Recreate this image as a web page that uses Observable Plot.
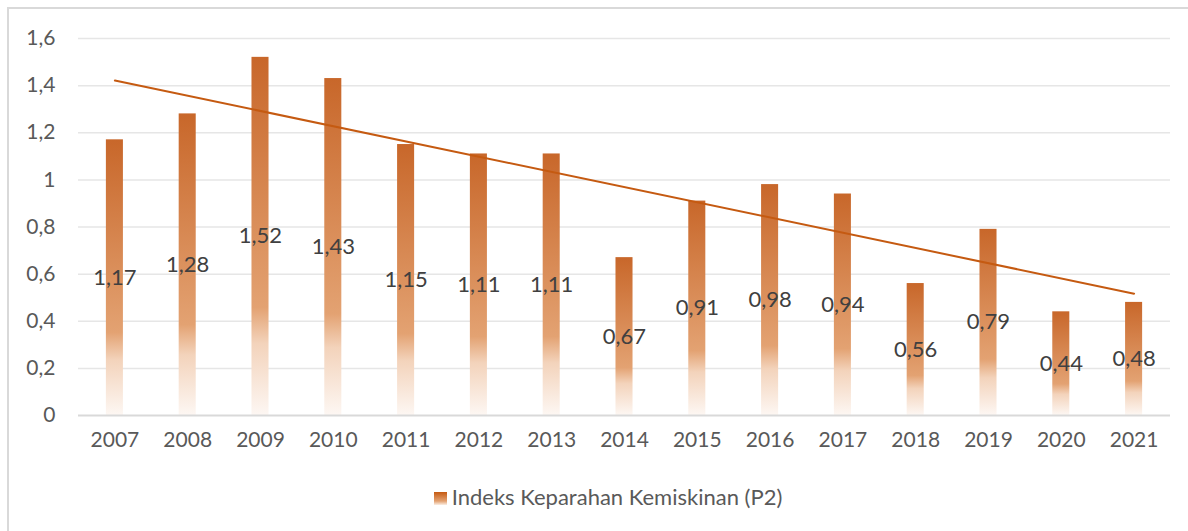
<!DOCTYPE html>
<html>
<head>
<meta charset="utf-8">
<script src="https://cdn.jsdelivr.net/npm/d3@7"></script>
<script src="https://cdn.jsdelivr.net/npm/@observablehq/plot@0.6"></script>
<style>
  html, body { margin: 0; padding: 0; background: #fff; }
  #frame { position: relative; width: 1188px; height: 531px; overflow: hidden; font-family: Lato, "Open Sans", sans-serif; }
  #border { position: absolute; left: 7px; top: 7px; width: 1200px; height: 600px; border: 2px solid #d9d9d9; box-sizing: border-box; }
  #chart { position: absolute; left: 0; top: 0; }
  #legend { position: absolute; left: 0; top: 483px; width: 1216px; text-align: center; font-size: 22px; color: #595959; }
  #legend .sw { display: inline-block; width: 13px; height: 13px; margin-right: 5px; vertical-align: 0px;
    background: linear-gradient(#c55a11, #e3a272 70%, #fbeee4); }
</style>
</head>
<body>
<div id="frame">
  <div id="border"></div>
  <div id="chart"></div>
  <div id="legend"><span class="sw"></span>Indeks Keparahan Kemiskinan (P2)</div>
</div>
<script>
const years = ["2007","2008","2009","2010","2011","2012","2013","2014","2015","2016","2017","2018","2019","2020","2021"];
const values = [1.17,1.28,1.52,1.43,1.15,1.11,1.11,0.67,0.91,0.98,0.94,0.56,0.79,0.44,0.48];
const yTicks = [0,0.2,0.4,0.6,0.8,1,1.2,1.4,1.6];

const fmt = d => String(d).replace(".", ",");
const data = years.map((year, i) => ({year, value: values[i]}));

// linear trend (least squares over year index)
const n = values.length;
const xs = years.map((_, i) => i + 1);
const mx = d3.mean(xs), my = d3.mean(values);
const slope = d3.sum(xs, (x, i) => (x - mx) * (values[i] - my)) / d3.sum(xs, x => (x - mx) ** 2);
const icpt = my - slope * mx;
const trend = [
  {year: years[0], value: icpt + slope * xs[0]},
  {year: years[n - 1], value: icpt + slope * xs[n - 1]}
];

const svg = Plot.plot({
  width: 1188,
  height: 470,
  marginTop: 38,
  marginBottom: 55,
  marginLeft: 78,
  marginRight: 18,
  style: {fontFamily: "Lato, 'Open Sans', sans-serif", fontSize: "21px", color: "#595959", background: "transparent"},
  x: {domain: years, round: false, paddingInner: 0.766, paddingOuter: 0.383, label: null, tickSize: 0, tickPadding: 17},
  y: {domain: [0, 1.6], ticks: yTicks, tickFormat: fmt, label: null, tickSize: 0, tickPadding: 23},
  marks: [
    Plot.ruleY(yTicks.filter(d => d > 0), {stroke: "#e6e6e6", strokeWidth: 1.5}),
    Plot.barY(data, {x: "year", y: "value", fill: "url(#barGrad)"}),
    Plot.ruleY([0], {stroke: "#d9d9d9", strokeWidth: 2}),
    Plot.line(trend, {x: "year", y: "value", stroke: "#c55a11", strokeWidth: 2}),
    Plot.text(data, {x: "year", y: d => d.value / 2, text: d => fmt(d.value), fill: "#404040", fontSize: 22})
  ]
});

const defs = d3.select(svg).insert("defs", ":first-child");
const g = defs.append("linearGradient").attr("id", "barGrad").attr("x1", 0).attr("y1", 0).attr("x2", 0).attr("y2", 1);
g.append("stop").attr("offset", "0%").attr("stop-color", "#c8672a");
g.append("stop").attr("offset", "70%").attr("stop-color", "#e3a272");
g.append("stop").attr("offset", "80%").attr("stop-color", "#f3d3bb");
g.append("stop").attr("offset", "100%").attr("stop-color", "#fdf7f3");

document.getElementById("chart").appendChild(svg);
</script>
</body>
</html>
